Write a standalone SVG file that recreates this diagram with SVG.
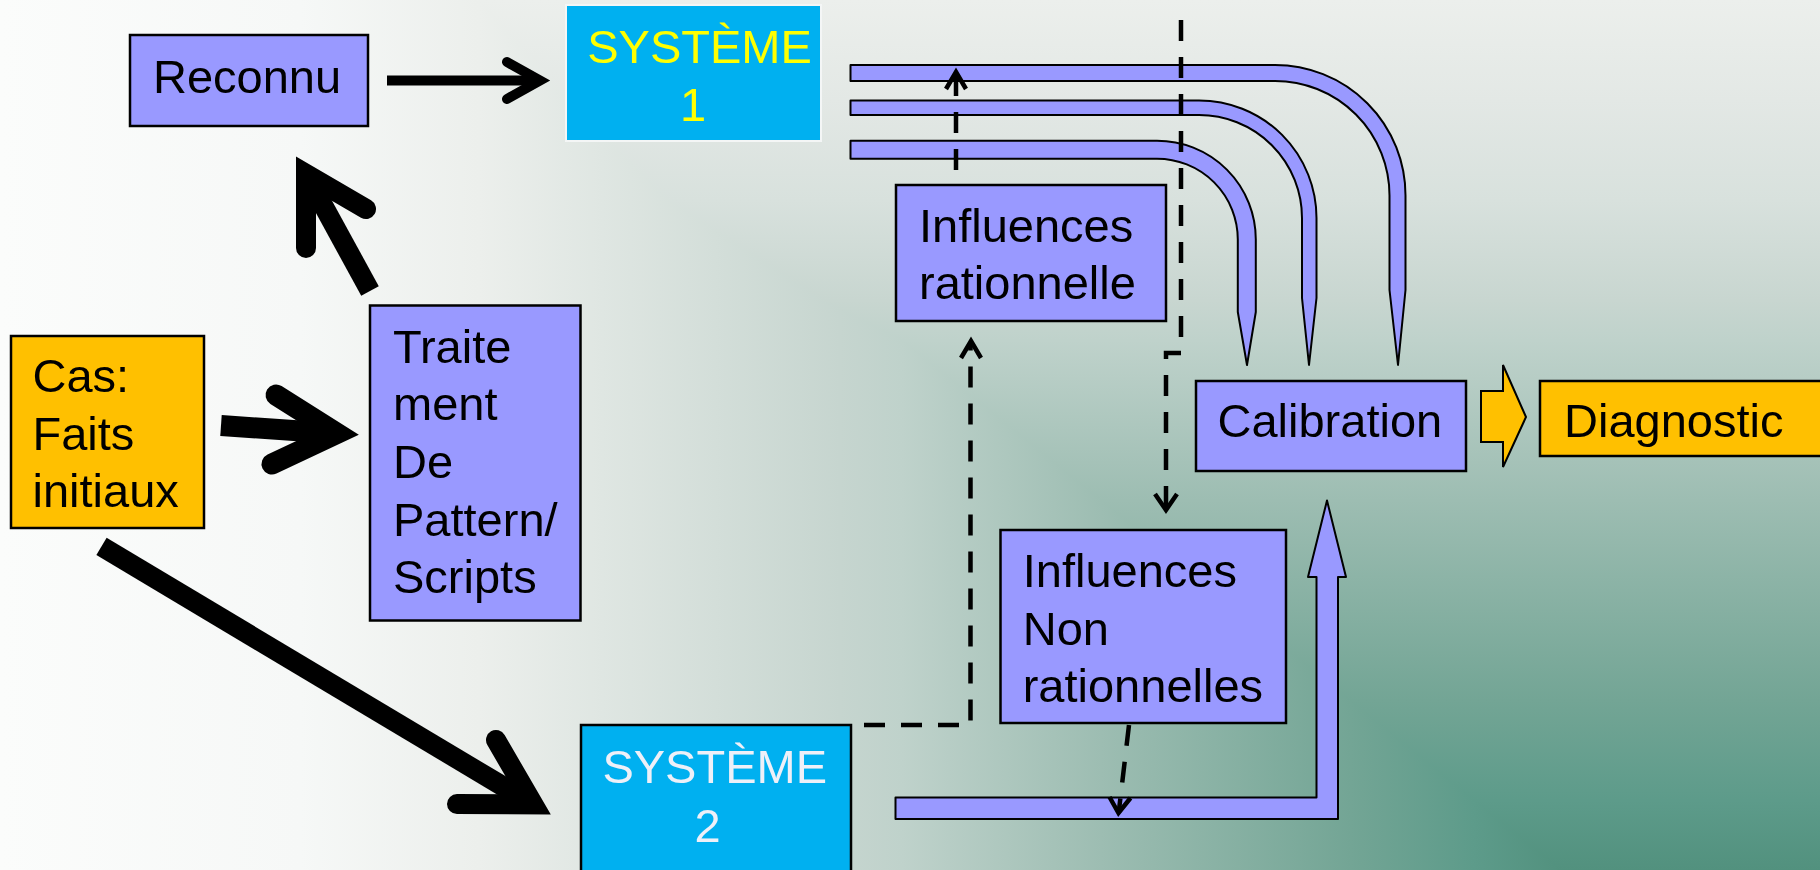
<svg xmlns="http://www.w3.org/2000/svg" width="1820" height="870" viewBox="0 0 1820 870">
<defs>
<linearGradient id="bgV" x1="0" y1="0" x2="0" y2="870" gradientUnits="userSpaceOnUse">
<stop offset="0" stop-color="#ECEFEC"/>
<stop offset="0.115" stop-color="#E3E8E5"/>
<stop offset="0.23" stop-color="#D8E1DD"/>
<stop offset="0.345" stop-color="#C8D6D0"/>
<stop offset="0.391" stop-color="#BFD2CB"/>
<stop offset="0.575" stop-color="#9DBDB2"/>
<stop offset="0.805" stop-color="#73A595"/>
<stop offset="0.92" stop-color="#5D9B8A"/>
<stop offset="1" stop-color="#52917E"/>
</linearGradient>
<linearGradient id="bgH" x1="0" y1="0" x2="1820" y2="0" gradientUnits="userSpaceOnUse">
<stop offset="0" stop-color="#FBFCFB"/>
<stop offset="0.165" stop-color="#F6F8F7"/>
<stop offset="0.263" stop-color="#ECEFEC"/>
<stop offset="0.4615" stop-color="#C6D5CF"/>
<stop offset="0.4956" stop-color="#BFD2CB"/>
<stop offset="0.605" stop-color="#9DBDB2"/>
<stop offset="0.742" stop-color="#73A595"/>
<stop offset="0.81" stop-color="#5D9B8A"/>
<stop offset="0.858" stop-color="#52917E"/>
<stop offset="1" stop-color="#52917E"/>
</linearGradient>
<style>
.t{font-family:"Liberation Sans",Arial,sans-serif;font-size:47px;fill:#000}
.box{fill:#9999FF;stroke:#000;stroke-width:2.5}
.gold{fill:#FFC000;stroke:#000;stroke-width:2.5}
.sys{fill:#00B0F0}
.band{fill:#9999FF;stroke:#000;stroke-width:2;stroke-linejoin:round}
.shaft{fill:none;stroke:#000;stroke-linecap:butt}
.head{fill:none;stroke:#000;stroke-linecap:round;stroke-linejoin:miter;stroke-miterlimit:10}
.dash{fill:none;stroke:#000;stroke-width:4.5;stroke-dasharray:21 16}
.dhead{fill:none;stroke:#000;stroke-width:4.5;stroke-linejoin:miter;stroke-linecap:butt}
</style>
</defs>
<rect x="0" y="0" width="1820" height="870" fill="url(#bgV)"/>
<rect x="0" y="0" width="1820" height="870" fill="url(#bgH)" style="mix-blend-mode:lighten"/>

<g id="reconnu">
<rect class="box" x="130" y="35" width="238" height="91"/>
<text class="t" x="153" y="93">Reconnu</text>
</g>
<g id="systeme1">
<rect class="sys" x="566" y="5" width="255" height="136" stroke="#F4F6F6" stroke-width="2"/>
<text class="t" x="699.5" y="63" text-anchor="middle" style="fill:#FFFF00">SYSTÈME</text>
<text class="t" x="693" y="121" text-anchor="middle" style="fill:#FFFF00">1</text>
</g>
<g id="cas">
<rect class="gold" x="11" y="336" width="193" height="192"/>
<text class="t" x="32.5" y="391.5">Cas:</text>
<text class="t" x="32.5" y="449.5">Faits</text>
<text class="t" x="32.5" y="507">initiaux</text>
</g>
<g id="traitement">
<rect class="box" x="370" y="305.5" width="210.5" height="315"/>
<text class="t" x="393" y="362.5">Traite</text>
<text class="t" x="393" y="420">ment</text>
<text class="t" x="393" y="477.5">De</text>
<text class="t" x="393" y="535.5">Pattern/</text>
<text class="t" x="393" y="592.5">Scripts</text>
</g>
<g id="systeme2">
<rect class="sys" x="581" y="725" width="270" height="160" stroke="#000" stroke-width="2.5"/>
<text class="t" x="714.7" y="782.7" text-anchor="middle" style="fill:#EEF0F8">SYSTÈME</text>
<text class="t" x="707.5" y="841.5" text-anchor="middle" style="fill:#EEF0F8">2</text>
</g>
<g id="influences-rationnelle">
<rect class="box" x="896" y="185" width="270" height="136"/>
<text class="t" x="919" y="241.5">Influences</text>
<text class="t" x="919" y="299">rationnelle</text>
</g>
<g id="calibration">
<rect class="box" x="1196" y="381" width="270" height="90"/>
<text class="t" x="1217.5" y="437">Calibration</text>
</g>
<g id="influences-non">
<rect class="box" x="1000.5" y="530" width="285.5" height="193"/>
<text class="t" x="1022.7" y="586.5">Influences</text>
<text class="t" x="1022.7" y="645">Non</text>
<text class="t" x="1022.7" y="701.5">rationnelles</text>
</g>
<g id="diagnostic">
<rect class="gold" x="1540" y="381" width="300" height="75"/>
<text class="t" x="1564" y="437">Diagnostic</text>
</g>

<g id="connectors">
<path class="band" d="M850.5,65 H1275 A130.5,130.5 0 0 1 1405.5,195.5 V290 L1398,365 L1389.5,290 V195.5 A114.5,114.5 0 0 0 1275,81 H850.5 Z"/>
<path class="band" d="M850.5,100.5 H1199 A117.5,117.5 0 0 1 1316.5,218 V298 L1309,365 L1302,298 V218 A103,103 0 0 0 1199,115 H850.5 Z"/>
<path class="band" d="M850.5,140.7 H1157 A98.8,98.8 0 0 1 1255.8,239.5 V312 L1247,365 L1237.8,312 V239.5 A80.8,80.8 0 0 0 1157,158.7 H850.5 Z"/>
<path class="band" d="M895.5,797.5 H1316.5 V577 H1308 L1327,500.5 L1346,577 H1338 V819 H895.5 Z"/>
<path d="M1481,391 H1503 V365 L1526,417 L1503,467 V442 H1481 Z" fill="#FFC000" stroke="#000" stroke-width="2"/>
<line class="shaft" x1="387" y1="80.5" x2="540" y2="80.5" stroke-width="10"/>
<path class="head" d="M507,62 L540,80.5 L507,99" stroke-width="10"/>
<line class="shaft" x1="370" y1="291" x2="306" y2="174" stroke-width="20"/>
<path class="head" d="M306,248 L306,174 L366,209" stroke-width="20"/>
<line class="shaft" x1="221" y1="425.5" x2="337" y2="433.5" stroke-width="21"/>
<path class="head" d="M276,395 L337,433.5 L272,464" stroke-width="21"/>
<line class="shaft" x1="101.5" y1="546.4" x2="533.4" y2="804.5" stroke-width="20"/>
<path class="head" d="M496,740 L533.4,804.5 L457,804" stroke-width="20"/>
<path class="dash" d="M864,725 H970.5 V345"/>
<path class="dhead" d="M961,358 L971,341 L981,358"/>
<path class="dash" d="M956,170 V74"/>
<path class="dhead" d="M946,89 L956,72 L966,89"/>
<path class="dash" d="M1181,20 V353 H1166 V508"/>
<path class="dhead" d="M1155,494 L1166,510 L1177,494"/>
<path class="dash" d="M1129,725 L1119,810"/>
<path class="dhead" d="M1109.5,797 L1118.5,813 L1130.5,798"/>
</g>
</svg>
